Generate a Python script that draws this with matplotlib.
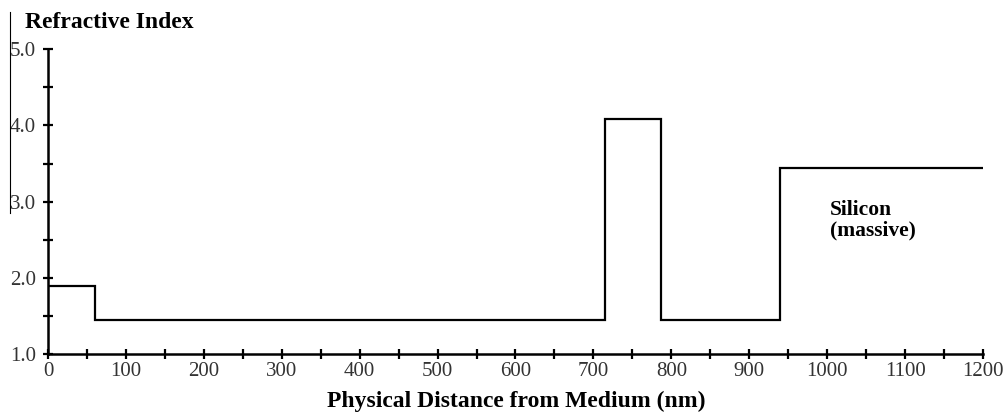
import matplotlib
matplotlib.use("Agg")
import matplotlib.pyplot as plt
from matplotlib.lines import Line2D
from matplotlib.ticker import MultipleLocator, FormatStrFormatter

# layer boundaries (nm) and refractive index of each layer
edges = [0, 60, 715, 787, 939, 1200]
n_index = [1.89, 1.44, 4.08, 1.44, 3.44]

x_major = [0, 100, 200, 300, 400, 500, 600, 700, 800, 900, 1000, 1100, 1200]
y_major = [1.0, 2.0, 3.0, 4.0, 5.0]

serif = ["Liberation Serif", "DejaVu Serif"]

fig = plt.figure(figsize=(10.04, 4.12), dpi=100)
ax = fig.add_axes([48/1004, 1-354/412, (983-48)/1004, (354-49.3)/412])

ax.stairs(n_index, edges, baseline=None, color="black", lw=1.6)

ax.set_xlim(0, 1200); ax.set_ylim(1, 5)
ax.set_xticks(x_major); ax.set_yticks(y_major)
ax.xaxis.set_minor_locator(MultipleLocator(50))
ax.yaxis.set_minor_locator(MultipleLocator(0.5))
ax.yaxis.set_major_formatter(FormatStrFormatter("%.1f"))
for s in ["top", "right"]:
    ax.spines[s].set_visible(False)
for s in ["left", "bottom"]:
    ax.spines[s].set_linewidth(1.8)
ax.tick_params(which="both", direction="inout", length=7, width=1.6, color="black")
ax.tick_params(axis="y", which="major", pad=5)
ax.tick_params(axis="x", which="major", pad=2)
for lab in ax.get_xticklabels() + ax.get_yticklabels():
    lab.set_family(serif); lab.set_fontsize(15); lab.set_color("#333333")

fig.text(25/1004, 1-22/412, "Refractive Index", family=serif, fontsize=17,
         fontweight="bold", ha="left", va="center")
fig.text(516/1004, 1-401/412, "Physical Distance from Medium (nm)", family=serif,
         fontsize=17, fontweight="bold", ha="center", va="center")
ax.text(1003, 2.76, "Silicon\n(massive)", family=serif, fontsize=15.5,
        fontweight="bold", ha="left", va="center", linespacing=1.05)

# thin border line left of the axis
fig.add_artist(Line2D([10/1004, 10/1004], [1-12/412, 1-213/412], lw=0.8, color="black"))

fig.savefig("out.png", dpi=100)
